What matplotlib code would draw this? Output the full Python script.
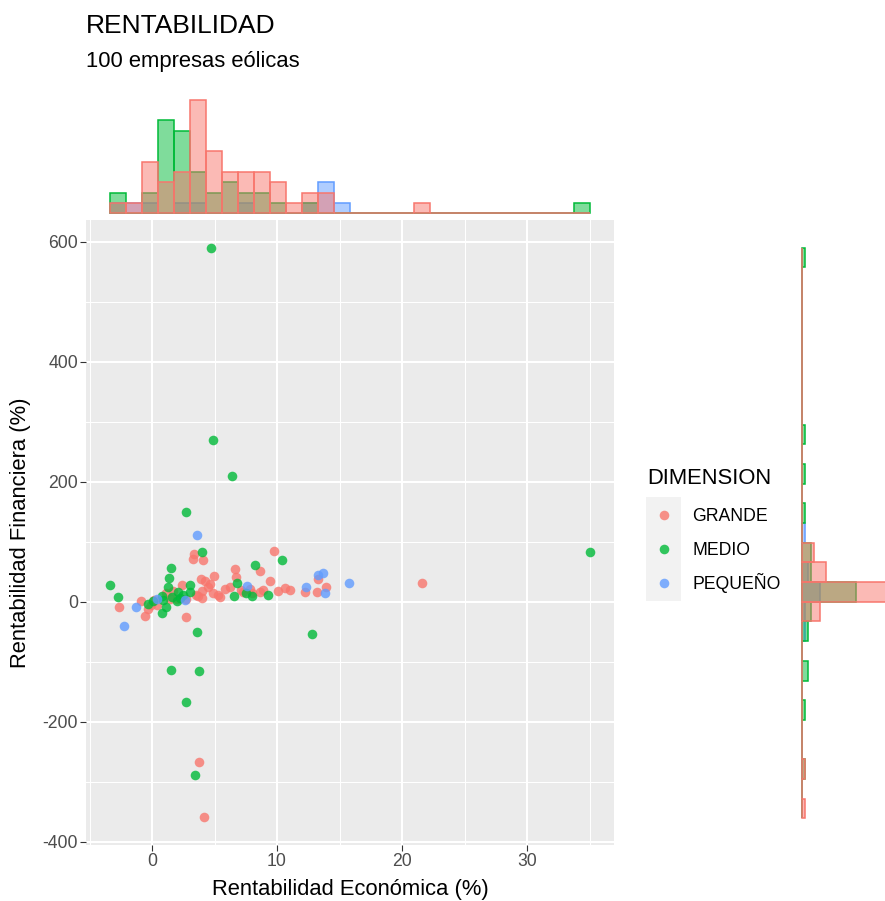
import numpy as np
import matplotlib.pyplot as plt
from matplotlib.patches import Rectangle

plt.rcParams["font.family"] = ["Liberation Sans", "DejaVu Sans"]
plt.rcParams["axes.unicode_minus"] = False

# Rentabilidad económica / financiera (%) por dimensión de empresa
grande_eco = [-2.62, -0.9, -0.56, -0.3, -0.1, 0.15, 0.4, 1.44, 1.7, 1.15,
              1.98, 2.42, 2.7, 2.75, 3.36, 3.31, 4.1, 3.71, 3.79, 3.97,
              4.24, 3.92, 4.16, 3.5, 4.0, 4.5, 4.64, 4.9, 4.99, 5.3,
              5.44, 5.84, 6.24, 6.64, 6.72, 7.3, 7.84, 7.1, 8.0, 8.64,
              8.67, 8.9, 9.79, 9.4, 10.1, 10.64, 11.04, 12.24, 13.17, 13.31,
              13.89, 21.6]
grande_fin = [-8, 2, -23, -12, -5, 3, -6, 4.5, 18, 15,
              4.5, 28, -26, 5, 80, 72, 70, 10, -267, 18,
              35, 38, -358, 12, 6, 24, 30, 15, 43, 12,
              8, 21, 24, 55, 41, 15.5, 21, 20, 14, 15.5,
              52, 20, 85, 35, 18, 23, 19.5, 15.5, 15.5, 38,
              25, 32]

medio_eco = [-3.36, -2.75, 0.06, 0.78, 1.15, 0.78, 1.26, 1.36, 1.52, 1.5,
             2.1, 2.24, 2.7, 2.72, 3.0, 3.0, 3.57, 3.44, 3.79, 3.97,
             4.72, 4.85, 6.42, 6.58, 6.82, 8.02, 8.2, 9.26, 10.42, 12.82,
             35.04, -0.3, 0.9, 1.6, 2.0, 2.5, 7.5]
medio_fin = [28, 8, 0.5, 10, -8, -18, 25, 40, 56, -114,
             15.5, 7, -167, 150, 28, 17, -51, -288, -116, 83,
             589, 269, 209, 10, 32, 10, 61, 12, 70, -53,
             83, -3, 3, 8, 2, 12, 14]

pequeno_eco = [-2.24, -1.3, 0.37, 2.62, 3.57, 7.57, 12.3, 13.3, 13.7, 13.84, 15.75]
pequeno_fin = [-40, -8, 4.5, 3, 111, 27, 25, 45, 48, 14, 31]

dimensiones = ["GRANDE", "MEDIO", "PEQUEÑO"]
colores = {"GRANDE": "#F8766D", "MEDIO": "#00BA38", "PEQUEÑO": "#619CFF"}

x_ticks = [0, 10, 20, 30]
x_minor = [-5, 5, 15, 25, 35]
y_ticks = [-400, -200, 0, 200, 400, 600]
y_minor = [-300, -100, 100, 300, 500]

FIG_W, FIG_H = 885, 901
N_BINS = 30
Y_BINWIDTH = 32.8


def px_rect(left, top, right, bottom):
    # rectangle in pixels (origin top-left) -> figure fraction
    return [left / FIG_W, 1 - bottom / FIG_H, (right - left) / FIG_W, (bottom - top) / FIG_H]


def expanded(lo, hi, mult=0.05):
    pad = (hi - lo) * mult
    return lo - pad, hi + pad


def zero_anchored_edges(values, width):
    k0 = np.floor(values.min() / width)
    k1 = np.ceil(values.max() / width)
    return np.arange(k0, k1 + 1) * width


def main() -> None:
    datos = {
        "GRANDE": (np.array(grande_eco), np.array(grande_fin)),
        "MEDIO": (np.array(medio_eco), np.array(medio_fin)),
        "PEQUEÑO": (np.array(pequeno_eco), np.array(pequeno_fin)),
    }
    all_x = np.concatenate([d[0] for d in datos.values()])
    all_y = np.concatenate([d[1] for d in datos.values()])
    xlim = expanded(all_x.min(), all_x.max())
    ylim = expanded(all_y.min(), all_y.max())

    x_edges = np.linspace(all_x.min(), all_x.max(), N_BINS + 1)
    y_edges = zero_anchored_edges(all_y, Y_BINWIDTH)
    x_counts = {g: np.histogram(datos[g][0], bins=x_edges)[0] for g in dimensiones}
    y_counts = {g: np.histogram(datos[g][1], bins=y_edges)[0] for g in dimensiones}

    fig = plt.figure(figsize=(FIG_W / 100, FIG_H / 100), dpi=100)

    # --- scatter principal ---
    ax = fig.add_axes(px_rect(86, 220, 614, 845))
    ax.set_facecolor("#EBEBEB")
    for s in ax.spines.values():
        s.set_visible(False)
    for g in dimensiones:
        x, y = datos[g]
        ax.scatter(x, y, s=48, color=colores[g], alpha=0.8, linewidths=0, zorder=3)
    ax.set_xlim(*xlim)
    ax.set_ylim(*ylim)
    ax.set_xticks(x_ticks)
    ax.set_xticklabels([str(v) for v in x_ticks])
    ax.set_yticks(y_ticks)
    ax.set_yticklabels([str(v) for v in y_ticks])
    ax.set_xticks(x_minor, minor=True)
    ax.set_yticks(y_minor, minor=True)
    ax.set_axisbelow(True)
    ax.grid(which="major", color="white", linewidth=1.45)
    ax.grid(which="minor", color="white", linewidth=0.75)
    ax.tick_params(which="minor", length=0)
    ax.tick_params(which="major", length=4, width=0.8, color="#333333",
                   labelcolor="#4D4D4D", labelsize=12.7, pad=1.8)

    # --- histograma marginal superior ---
    w_x = x_edges[1] - x_edges[0]
    ax_top = fig.add_axes(px_rect(86, 94, 614, 219))
    for g in reversed(dimensiones):
        ax_top.bar(x_edges[:-1], x_counts[g], width=w_x, align="edge",
                   facecolor=colores[g] + "80", edgecolor=colores[g], linewidth=1.1)
    maxc = max(c.max() for c in x_counts.values())
    ax_top.set_xlim(*xlim)
    ax_top.set_ylim(-0.05 * maxc, 1.05 * maxc)
    ax_top.axis("off")

    # --- histograma marginal derecho ---
    ax_right = fig.add_axes(px_rect(797, 220, 903, 845))
    for g in reversed(dimensiones):
        ax_right.barh(y_edges[:-1], y_counts[g], height=Y_BINWIDTH, align="edge",
                      facecolor=colores[g] + "80", edgecolor=colores[g], linewidth=1.1)
    maxc_y = max(c.max() for c in y_counts.values())
    ax_right.set_ylim(*ylim)
    ax_right.set_xlim(-0.05 * maxc_y, 1.05 * maxc_y)
    ax_right.axis("off")

    # --- títulos ---
    fig.text(86 / FIG_W, 1 - 32.7 / FIG_H, "RENTABILIDAD", fontsize=19,
             ha="left", va="baseline", color="black")
    fig.text(86 / FIG_W, 1 - 66.7 / FIG_H, "100 empresas eólicas", fontsize=15.8,
             ha="left", va="baseline", color="black")
    fig.text(350 / FIG_W, 1 - 894.5 / FIG_H, "Rentabilidad Económica (%)", fontsize=15.8,
             ha="center", va="baseline", color="black")
    fig.text(20.5 / FIG_W, 1 - 532.5 / FIG_H, "Rentabilidad Financiera (%)", fontsize=15.8,
             ha="center", va="center", rotation=90, color="black")

    # --- leyenda ---
    lax = fig.add_axes([0, 0, 1, 1])
    lax.set_xlim(0, FIG_W)
    lax.set_ylim(FIG_H, 0)
    lax.axis("off")
    lax.text(647, 484.3, "DIMENSION", fontsize=15.8, ha="left", va="baseline")
    lax.add_patch(Rectangle((646, 497), 35, 104, facecolor="#F2F2F2", edgecolor="none"))
    key_y = [514.5, 548.5, 582.7]
    for g, ky in zip(dimensiones, key_y):
        lax.scatter([664], [ky], s=48, color=colores[g], alpha=0.8, linewidths=0)
        lax.text(692, ky + 6.3, g, fontsize=12.7, ha="left", va="baseline", color="black")

    fig.savefig("out.png", dpi=100)
    plt.close(fig)


if __name__ == "__main__":
    main()
